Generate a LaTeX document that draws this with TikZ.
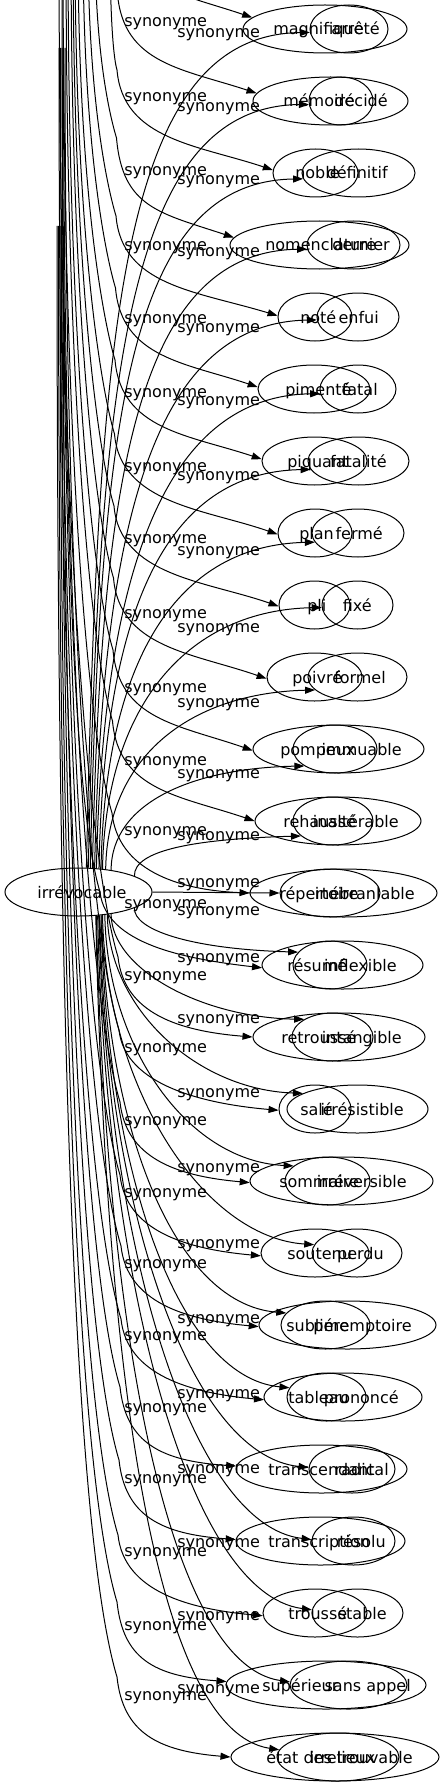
\documentclass[tikz,border=0pt]{standalone}
\usepackage{fontspec}
\setmainfont{DejaVu Sans}
\usetikzlibrary{arrows.meta,shapes.geometric}
\begin{document}
\begin{tikzpicture}[x=0.75pt,y=-0.75pt,
  ell/.style={draw, ellipse, minimum height=36pt, inner sep=0pt, line width=0.75pt},
  word/.style={inner sep=0pt, font=\fontsize{12}{14}\selectfont},
  lbl/.style={inner sep=0pt, font=\fontsize{12}{14}\selectfont, anchor=base west},
  edge/.style={draw, line width=0.75pt, -{Triangle[length=7.5pt,width=5.25pt]}}
]
\useasboundingbox (0,0) rectangle (445,1787);
\fill[white] (0,0) rectangle (445,1787);
\clip (0,0) rectangle (445,1787);

% source node
\node[ell, minimum width=110.25pt] (irr) at (78.5,892) {};
\node[word, anchor=base] (tirr) at (82,898) {irrévocable};

% target ellipses
\foreach \i/\pl/\pr/\ql/\qr in {1/243/407/310/388, 2/253/408/309/373, 3/273/358/302/415, 4/230/409/307/400, 5/278/352/317/399, 6/258/370/320/396, 7/262/367/308/409, 8/278/352/312/404, 9/279/350/322/393, 10/267/362/308/407, 11/253/424/293/377, 12/255/421/293/373, 13/250/437/280/380, 14/262/423/293/367, 15/253/425/292/373, 16/279/351/287/428, 17/250/433/285/370, 18/261/369/312/402, 19/259/436/281/370, 20/264/422/287/366, 21/236/407/309/395, 22/236/405/312/395, 23/263/367/312/403, 24/226/426/290/407, 25/231/439/277/399}{
  \pgfmathsetmacro\rowy{29+72*(\i-1)}
  \pgfmathsetmacro\pcx{(\pl+\pr)/2}
  \pgfmathsetmacro\pwd{(\pr-\pl)*0.75}
  \pgfmathsetmacro\qcx{(\ql+\qr)/2}
  \pgfmathsetmacro\qwd{(\qr-\ql)*0.75}
  \node[ell, minimum width=\pwd pt] (P\i) at (\pcx,\rowy) {};
  \node[ell, minimum width=\qwd pt] (Q\i) at (\qcx,\rowy) {};
}

% words of the first set
\foreach \i/\xx/\w in {1/273/magnifique, 2/283/mémoire, 3/295/noble, 4/265/nomenclature, 5/300/noté, 6/285/pimenté, 7/287/piquant, 8/299/plan, 9/307/pli, 10/292/poivré, 11/280/pompeux, 12/283/rehaussé, 13/279/répertoire, 14/287/résumé, 15/281/retroussé, 16/300/salé, 17/279/sommaire, 18/287/soutenu, 19/286/sublime, 20/288/tableau, 21/268/transcendant, 22/268/transcription, 23/288/troussé, 24/262/supérieur, 25/266/{état des lieux}}
  \node[word, anchor=base west] (tp\i) at (\xx,{35+72*(\i-1)}) {\w};

% words of the second set
\foreach \i/\xx/\w in {1/380/arrêté, 2/388/décidé, 3/388/définitif, 4/390/dernier, 5/379/enfui, 6/378/fatal, 7/387/fatalité, 8/383/fermé, 9/372/fixé, 10/386/formel, 11/402/immuable, 12/399/inaltérable, 13/415/inébranlable, 14/397/inflexible, 15/402/intangible, 16/404/irrésistible, 17/407/irréversible, 18/384/perdu, 19/412/péremptoire, 20/399/prononcé, 21/389/radical, 22/386/résolu, 23/387/stable, 24/411/{sans appel}, 25/413/irretrouvable}
  \node[word, anchor=base east] (tq\i) at (\xx,{35+72*(\i-1)}) {\w};

% edge labels, left column
\foreach[count=\k] \yy in {22,97,171,246,318,392,466,538,613,687,760,830,903,975,1047,1120,1192,1263,1335,1407,1478,1551,1625,1695}
  \node[lbl] (la\k) at (124,{\yy+5}) {synonyme};
% edge labels, right column
\foreach[count=\k] \yy in {33,107,180,252,327,400,475,550,627,702,773,835,882,910,957,1018,1092,1167,1243,1318,1393,1468,1542,1615,1688}
  \node[lbl] (lb\k) at (177,{\yy+5}) {synonyme};

% edges of the first set: long bundle entering from above
\foreach \i/\tx/\ty/\bx/\by/\ex/\eo/\ddd in {1/248/17/118/-150/118/100/25, 2/255/94/104/-60/117.5/100/25, 3/270/170/110/-60/117/100/25, 4/232/238/95/-60/116.5/100/25, 5/268/316/88/-60/116/100/25, 6/258/388/83/-60/115.5/100/25, 7/261/460/78/-60/115/100/25, 8/277/534/75/-60/114.5/100/25, 9/278/606/73/-60/114/100/25, 10/265/678/71/-60/113.5/100/25, 11/251/750/68/-60/113/100/25, 12/253/821/66/-60/112.5/100/25, 13/248/893/63/-60/112/80/3, 14/258/967/62/-60/100/75/8, 15/250/1037/59/-60/118/80/6, 16/278/1110/65/48/119/80/6, 17/248/1182/63.5/48/120/80/6, 18/258/1255/62/48/120/80/6, 19/257/1326/60.5/48/121/80/6, 20/262/1399/59/48/121/80/6, 21/233/1467/63/226/120/80/6, 22/233/1540/61.5/226/119/80/6, 23/260/1615/60/226/118/80/6, 24/225/1682/58.5/226/117/80/6, 25/230/1757/57/226/117/80/6}{
  \path (P\i.center); \pgfgetlastxy{\cxx}{\cyy}
  \pgfmathsetmacro\cxa{\cxx}
  \pgfmathsetmacro\cya{\cyy}
  \pgfmathsetmacro\angE{atan2(-0.75*\ty-(\cya), 0.75*\tx-(\cxa))}
  \pgfmathsetmacro\ey{\ty-\eo}
  \pgfmathsetmacro\Lg{\ey-\by}
  \coordinate (ps\i) at (\bx,\by);
  \draw[edge] (ps\i) .. controls (\bx,{\by+0.6*\Lg}) and ({\ex-0.027*\Lg},{\ey-0.09*\Lg}) .. (\ex,\ey)
     .. controls ({\ex+6},{\ty-0.3*\eo}) and ({\tx-72},{\ty-\ddd}) .. (P\i.\angE);
}

% edges of the second set, upward from the source
\foreach \i/\sx/\tx/\ty in {1/86/308/32, 2/88/308/104, 3/90/300/179, 4/92/305/249, 5/94/315/320, 6/96/320/393, 7/98/308/469, 8/100/313/542, 9/102/320/607, 10/105/313/690, 11/110/305/765, 12/133/300/836}{
  \pgfmathsetmacro\dyy{24*sqrt(1-((\sx-78.5)/73.5)^2)}
  \pgfmathsetmacro\angS{atan2(\dyy,\sx-78.5)}
  \pgfmathsetmacro\sy{892-\dyy}
  \pgfmathsetmacro\hh{\sy-\ty}
  \path (Q\i.center); \pgfgetlastxy{\cxx}{\cyy}
  \pgfmathsetmacro\cxa{\cxx}
  \pgfmathsetmacro\cya{\cyy}
  \pgfmathsetmacro\angE{atan2(-0.75*\ty-(\cya), 0.75*\tx-(\cxa))}
  \draw[edge] (irr.\angS) .. controls ({\sx+0.015*\hh},{\sy-0.65*\hh}) and ({\tx-100-0.105*\hh},{\ty+3}) .. (Q\i.\angE);
}
% straight one
\draw[edge] (irr.east) -- (Q13.west);
% edges of the second set, downward from the source
\foreach \i/\sx/\tx/\ty in {14/133/292/950, 15/110/305/1020, 16/106/302/1094, 17/104/295/1167, 18/102/313/1245, 19/101/285/1313, 20/100/290/1388, 21/99/306/1468, 22/98/310/1540, 23/97/310/1610, 24/96/290/1682, 25/95/278/1750}{
  \pgfmathsetmacro\dyy{24*sqrt(1-((\sx-78.5)/73.5)^2)}
  \pgfmathsetmacro\angS{atan2(-\dyy,\sx-78.5)}
  \pgfmathsetmacro\sy{892+\dyy}
  \pgfmathsetmacro\hh{\ty-\sy}
  \path (Q\i.center); \pgfgetlastxy{\cxx}{\cyy}
  \pgfmathsetmacro\cxa{\cxx}
  \pgfmathsetmacro\cya{\cyy}
  \pgfmathsetmacro\angE{atan2(-0.75*\ty-(\cya), 0.75*\tx-(\cxa))}
  \draw[edge] (irr.\angS) .. controls ({\sx+0.012*\hh},{\sy+0.52*\hh}) and ({\tx-100-0.033*\hh},{\ty-0.024*\hh}) .. (Q\i.\angE);
}
\end{tikzpicture}
\end{document}
